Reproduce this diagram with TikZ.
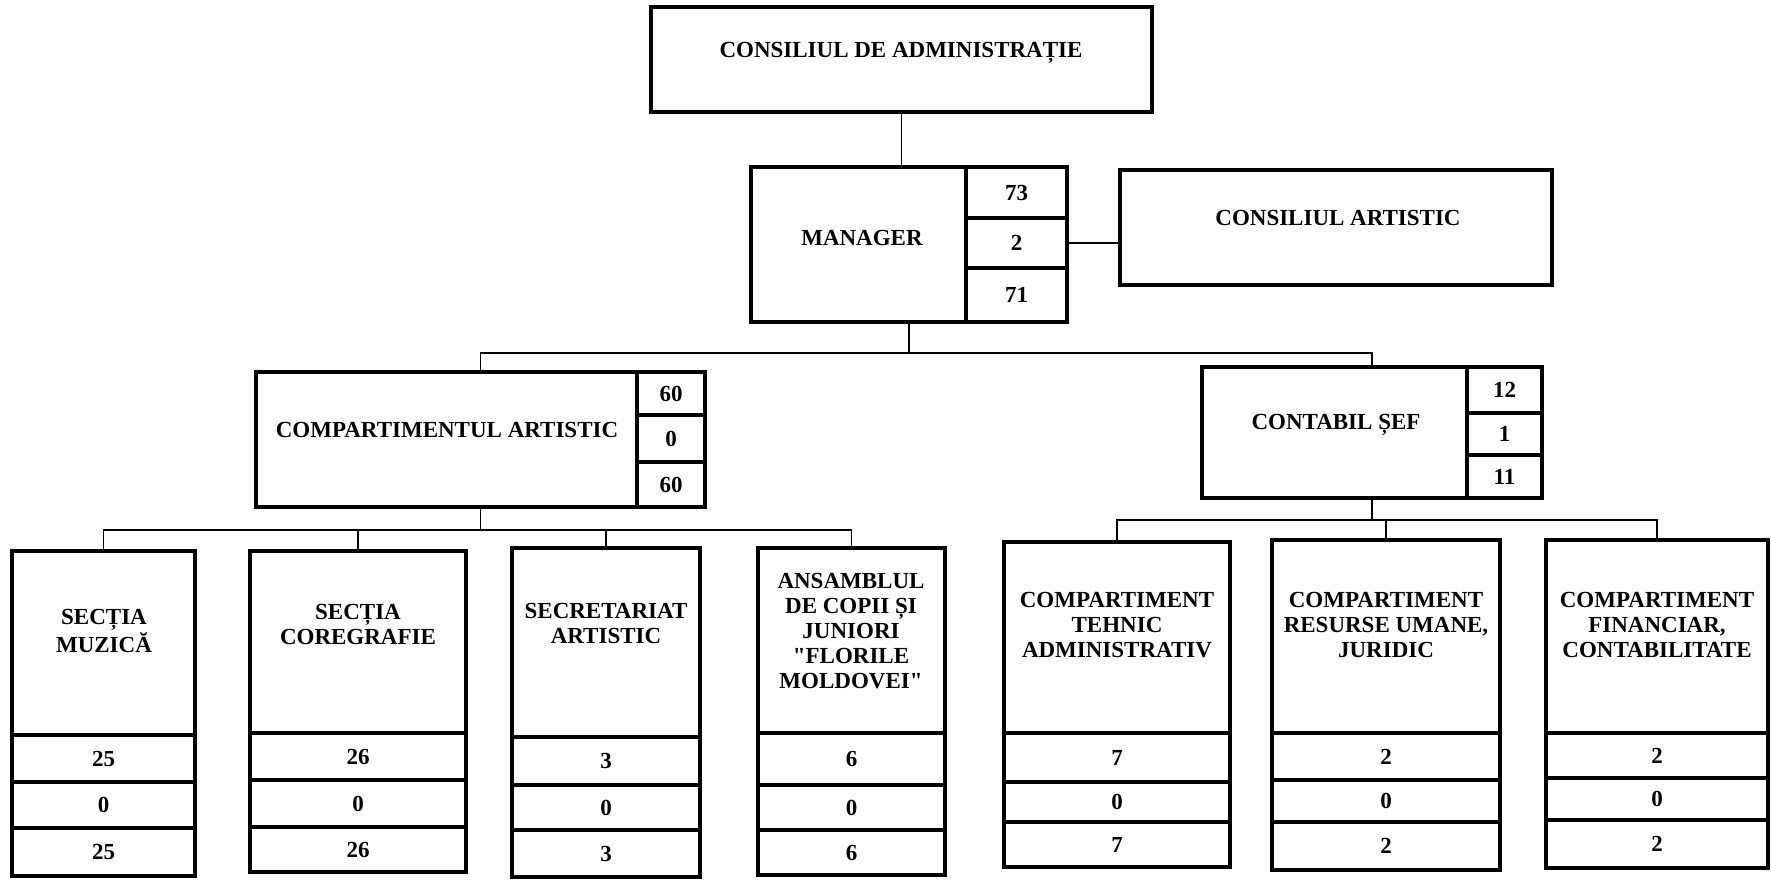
\documentclass[tikz,border=0pt]{standalone}
\usepackage{fontspec}
\setmainfont{Liberation Serif}
\usetikzlibrary{positioning}

\tikzset{
  unit/.style={draw, line width=1.7pt, anchor=north west, inner sep=0pt, outer sep=0pt},
  num/.style={draw, line width=1.6pt, anchor=north west, inner sep=0pt, outer sep=0pt,
    font=\fontsize{11.5}{12.5}\selectfont\bfseries},
  caption/.style={align=center, inner sep=0pt, font=\fontsize{11.5}{12.5}\selectfont\bfseries},
  link/.style={line width=0.8pt},
}

\begin{document}
\begin{tikzpicture}[x=0.5pt,y=-0.5pt]
    \useasboundingbox (0,0) rectangle (1772,879);
    % top levels
    \node[unit, minimum width=250.5pt, minimum height=52.5pt] (board) at (651,7) {};
    \node[caption] (boardt) at (901,53) {CONSILIUL DE ADMINISTRAȚIE};
    \node[unit, minimum width=158pt, minimum height=77.5pt] (mgr) at (751,167) {};
    \node[caption] (mgrt) at (862,238) {MANAGER};
    \node[num, minimum width=50.5pt, minimum height=25.5pt, anchor=north east] (mgr1) at (mgr.north east) {73};
    \node[num, minimum width=50.5pt, minimum height=25pt, below=0pt of mgr1] (mgr2) {2};
    \node[num, minimum width=50.5pt, minimum height=27pt, below=0pt of mgr2] (mgr3) {71};
    \node[unit, minimum width=216pt, minimum height=57.5pt] (artc) at (1120,170) {};
    \node[caption] (artct) at (1338,218) {CONSILIUL ARTISTIC};
    \node[unit, minimum width=224.5pt, minimum height=67.5pt] (artd) at (256,372) {};
    \node[caption] (artdt) at (447,430) {COMPARTIMENTUL ARTISTIC};
    \node[num, minimum width=34pt, minimum height=21.5pt, anchor=north east] (artd1) at (artd.north east) {60};
    \node[num, minimum width=34pt, minimum height=23.5pt, below=0pt of artd1] (artd2) {0};
    \node[num, minimum width=34pt, minimum height=22.5pt, below=0pt of artd2] (artd3) {60};
    \node[unit, minimum width=170pt, minimum height=65.5pt] (chief) at (1202,367) {};
    \node[caption] (chieft) at (1336,425) {CONTABIL ȘEF};
    \node[num, minimum width=37.5pt, minimum height=23pt, anchor=north east] (chief1) at (chief.north east) {12};
    \node[num, minimum width=37.5pt, minimum height=21pt, below=0pt of chief1] (chief2) {1};
    \node[num, minimum width=37.5pt, minimum height=21.5pt, below=0pt of chief2] (chief3) {11};
    % artistic sections
    \node[unit, minimum width=91.5pt, minimum height=92pt] (muz) at (12,551) {};
    \node[caption] (muzt) at (104,631) {SECȚIA\\MUZICĂ};
    \node[num, minimum width=91.5pt, minimum height=23.5pt, below=0pt of muz] (muz1) {25};
    \node[num, minimum width=91.5pt, minimum height=23pt, below=0pt of muz1] (muz2) {0};
    \node[num, minimum width=91.5pt, minimum height=24pt, below=0pt of muz2] (muz3) {25};
    \node[unit, minimum width=108pt, minimum height=91pt] (cor) at (250,551) {};
    \node[caption] (cort) at (358,624) {SECȚIA\\COREGRAFIE};
    \node[num, minimum width=108pt, minimum height=23.5pt, below=0pt of cor] (cor1) {26};
    \node[num, minimum width=108pt, minimum height=23.5pt, below=0pt of cor1] (cor2) {0};
    \node[num, minimum width=108pt, minimum height=22.5pt, below=0pt of cor2] (cor3) {26};
    \node[unit, minimum width=94pt, minimum height=94.5pt] (sec) at (512,548) {};
    \node[caption] (sect) at (606,623) {SECRETARIAT\\ARTISTIC};
    \node[num, minimum width=94pt, minimum height=24pt, below=0pt of sec] (sec1) {3};
    \node[num, minimum width=94pt, minimum height=22.5pt, below=0pt of sec1] (sec2) {0};
    \node[num, minimum width=94pt, minimum height=23.5pt, below=0pt of sec2] (sec3) {3};
    \node[unit, minimum width=93.5pt, minimum height=92.5pt] (ans) at (758,548) {};
    \node[caption] (anst) at (851,631) {ANSAMBLUL\\DE COPII ȘI\\JUNIORI\\\textquotedbl FLORILE\\MOLDOVEI\textquotedbl};
    \node[num, minimum width=93.5pt, minimum height=26pt, below=0pt of ans] (ans1) {6};
    \node[num, minimum width=93.5pt, minimum height=22.5pt, below=0pt of ans1] (ans2) {0};
    \node[num, minimum width=93.5pt, minimum height=22.5pt, below=0pt of ans2] (ans3) {6};
    % accounting sections
    \node[unit, minimum width=113pt, minimum height=95.5pt] (teh) at (1004,542) {};
    \node[caption] (teht) at (1117,625) {COMPARTIMENT\\TEHNIC\\ADMINISTRATIV};
    \node[num, minimum width=113pt, minimum height=24.5pt, below=0pt of teh] (teh1) {7};
    \node[num, minimum width=113pt, minimum height=20pt, below=0pt of teh1] (teh2) {0};
    \node[num, minimum width=113pt, minimum height=22.5pt, below=0pt of teh2] (teh3) {7};
    \node[unit, minimum width=114pt, minimum height=96.5pt] (res) at (1272,540) {};
    \node[caption] (rest) at (1386,625) {COMPARTIMENT\\RESURSE UMANE,\\JURIDIC};
    \node[num, minimum width=114pt, minimum height=23.5pt, below=0pt of res] (res1) {2};
    \node[num, minimum width=114pt, minimum height=21pt, below=0pt of res1] (res2) {0};
    \node[num, minimum width=114pt, minimum height=24pt, below=0pt of res2] (res3) {2};
    \node[unit, minimum width=111pt, minimum height=96.5pt] (fin) at (1546,540) {};
    \node[caption] (fint) at (1657,625) {COMPARTIMENT\\FINANCIAR,\\CONTABILITATE};
    \node[num, minimum width=111pt, minimum height=22.5pt, below=0pt of fin] (fin1) {2};
    \node[num, minimum width=111pt, minimum height=21pt, below=0pt of fin1] (fin2) {0};
    \node[num, minimum width=111pt, minimum height=24pt, below=0pt of fin2] (fin3) {2};
    % connectors
    \coordinate (busU) at (0,353);
    \coordinate (busL) at (0,530);
    \coordinate (busR) at (0,520);
    \draw[link] (board.south) -- (board.south |- mgr.north);
    \draw[link] (mgr2.east) -- (artc.west |- mgr2.east);
    \draw[link] (mgr.south) -- (mgr.south |- busU);
    \draw[link] (artd.north) -- (artd.north |- busU) -- (chief.north |- busU) -- (chief.north);
    \draw[link] (artd.south) -- (artd.south |- busL);
    \draw[link] (muz.north) -- (muz.north |- busL) -- (ans.north |- busL) -- (ans.north);
    \draw[link] (cor.north) -- (cor.north |- busL);
    \draw[link] (sec.north) -- (sec.north |- busL);
    \draw[link] (chief.south) -- (chief.south |- busR);
    \draw[link] (teh.north) -- (teh.north |- busR) -- (fin.north |- busR) -- (fin.north);
    \draw[link] (res.north) -- (res.north |- busR);
\end{tikzpicture}
\end{document}
